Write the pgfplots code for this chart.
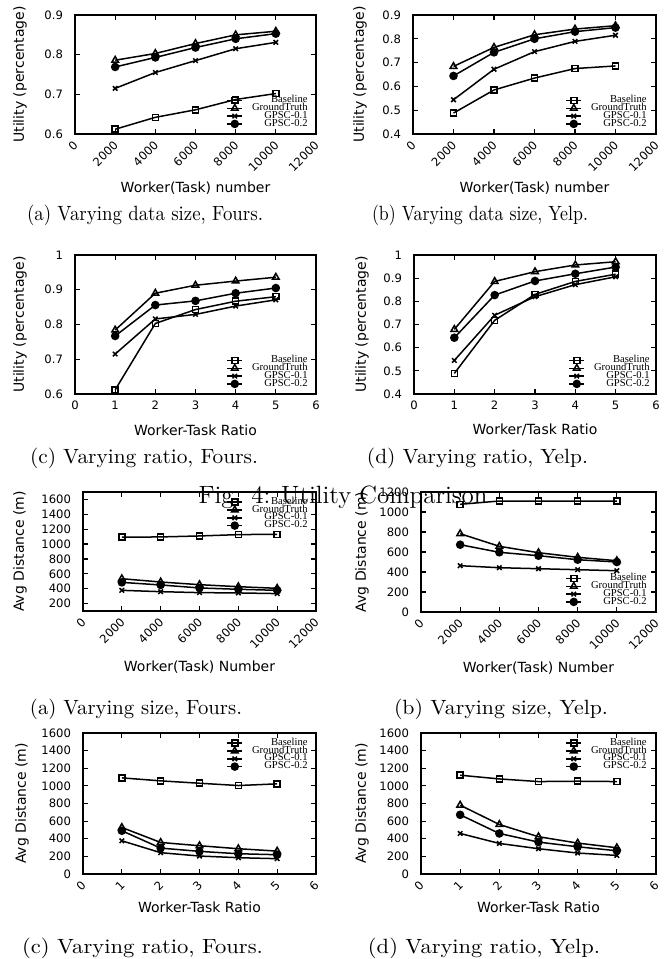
\documentclass[border=0pt]{standalone}
\usepackage{fontspec}
\usepackage{graphicx}
\usepackage{pgfplots}
\pgfplotsset{compat=1.18}
\newfontfamily\dejavu{DejaVu Sans}
\newfontfamily\libserif{Liberation Serif}
\newcommand\tickfont{\dejavu\fontsize{5.8}{6.5}\selectfont}
\newcommand\labfont{\dejavu\fontsize{7}{8}\selectfont}
\newcommand\legfont{\libserif\fontsize{5.3}{5}\selectfont}
\newcommand\capfont{\fontsize{10.3}{12}\selectfont}
% sub-caption squeezed to the width it has in the scanned figure
\newcommand\subcap[2]{\resizebox{#1}{\height}{#2}}

\pgfplotsset{
  gp/.style={
    scale only axis,
    axis line style={line width=0.9pt},
    tick align=inside,
    major tick length=2.5pt,
    every tick/.style={black, line width=0.6pt},
    tick label style={font=\tickfont},
    scaled ticks=false,
    /pgf/number format/1000 sep={},
    /pgf/number format/assume math mode=true,
    label style={font=\labfont},
    yticklabel shift=2.5pt,
    legend cell align=right,
    legend style={draw=none, fill=none, inner sep=0pt, font=\legfont,
      row sep=0.2pt, column sep=4.5pt,
      nodes={inner sep=0pt, text height=2.9pt, text depth=0.8pt}},
    legend image code/.code={\draw[##1, mark repeat=2, mark phase=2]
      plot coordinates {(0pt,0pt) (3.75pt,0pt) (7.5pt,0pt)};},
    every axis plot/.append style={black, line width=0.75pt},
  },
  rotx/.style={xticklabel style={inner sep=0pt, xshift=0.5pt, yshift=-4.5pt, rotate=45, anchor=east}},
  xl/.style={xlabel style={at={([yshift=-#1]axis description cs:0.5,0)}, anchor=center}},
  yl/.style={ylabel style={at={([xshift=-#1]axis description cs:0,0.5)}, rotate=0, anchor=center}},
  legbr/.style={legend style={at={(rel axis cs:1,0)}, anchor=south east, xshift=-#1, yshift=3pt}},
  legtr/.style={legend style={at={(rel axis cs:1,1)}, anchor=north east, xshift=-#1, yshift=-3pt}},
  pb/.style={mark=square, mark size=1.5pt, mark options={fill=white, solid}},
  pg/.style={mark=triangle, mark size=1.9pt, mark options={fill=white, solid}},
  px/.style={mark=x, mark size=1.6pt, mark options={solid}},
  pc/.style={mark=*, mark size=1.75pt, mark options={fill=black, solid}},
}

\begin{document}
\begin{tikzpicture}

% ---------- Fig. 4: utility ----------
\begin{axis}[gp, rotx, xl=27pt, yl=27.5pt, legbr=4pt,
  at={(37.5pt,-7.5pt)}, anchor=north west, width=120.5pt, height=59.5pt,
  xmin=0, xmax=12000, ymin=0.6, ymax=0.9,
  xtick={0,2000,...,12000}, ytick={0.6,0.7,0.8,0.9},
  xlabel={Worker(Task) number}, ylabel={Utility (percentage)}]
\addplot[pb] coordinates {(2000,0.612) (4000,0.642) (6000,0.661) (8000,0.687) (10000,0.702)};
\addplot[pg] coordinates {(2000,0.786) (4000,0.803) (6000,0.828) (8000,0.850) (10000,0.859)};
\addplot[px] coordinates {(2000,0.715) (4000,0.755) (6000,0.785) (8000,0.815) (10000,0.831)};
\addplot[pc] coordinates {(2000,0.769) (4000,0.793) (6000,0.818) (8000,0.840) (10000,0.853)};
\legend{Baseline, GroundTruth, GPSC-0.1, GPSC-0.2}
\end{axis}

\begin{axis}[gp, rotx, xl=27pt, yl=26.5pt, legbr=4.5pt,
  at={(206.5pt,-7.5pt)}, anchor=north west, width=121.5pt, height=59.5pt,
  xmin=0, xmax=12000, ymin=0.4, ymax=0.9,
  xtick={0,2000,...,12000}, ytick={0.4,0.5,0.6,0.7,0.8,0.9},
  xlabel={Worker(Task) number}, ylabel={Utility (percentage)}]
\addplot[pb] coordinates {(2000,0.488) (4000,0.585) (6000,0.635) (8000,0.675) (10000,0.686)};
\addplot[pg] coordinates {(2000,0.684) (4000,0.764) (6000,0.817) (8000,0.841) (10000,0.855)};
\addplot[px] coordinates {(2000,0.544) (4000,0.672) (6000,0.746) (8000,0.789) (10000,0.815)};
\addplot[pc] coordinates {(2000,0.644) (4000,0.743) (6000,0.800) (8000,0.830) (10000,0.847)};
\legend{Baseline, GroundTruth, GPSC-0.1, GPSC-0.2}
\end{axis}

\begin{axis}[gp, xl=18pt, yl=27.5pt, legbr=4pt,
  at={(37.5pt,-127.5pt)}, anchor=north west, width=120.5pt, height=69.5pt,
  xmin=0, xmax=6, ymin=0.6, ymax=1,
  xtick={0,...,6}, ytick={0.6,0.7,0.8,0.9,1},
  xlabel={Worker-Task Ratio}, ylabel={Utility (percentage)}]
\addplot[pb] coordinates {(1,0.612) (2,0.803) (3,0.843) (4,0.867) (5,0.880)};
\addplot[pg] coordinates {(1,0.784) (2,0.890) (3,0.913) (4,0.925) (5,0.936)};
\addplot[px] coordinates {(1,0.715) (2,0.816) (3,0.829) (4,0.853) (5,0.871)};
\addplot[pc] coordinates {(1,0.767) (2,0.856) (3,0.868) (4,0.890) (5,0.905)};
\legend{Baseline, GroundTruth, GPSC-0.1, GPSC-0.2}
\end{axis}

\begin{axis}[gp, xl=18pt, yl=26pt, legbr=3pt,
  at={(207pt,-127.5pt)}, anchor=north west, width=121pt, height=69.5pt,
  xmin=0, xmax=6, ymin=0.4, ymax=1,
  xtick={0,...,6}, ytick={0.4,0.5,0.6,0.7,0.8,0.9,1},
  xlabel={Worker/Task Ratio}, ylabel={Utility (percentage)}]
\addplot[pb] coordinates {(1,0.489) (2,0.718) (3,0.830) (4,0.886) (5,0.917)};
\addplot[pg] coordinates {(1,0.679) (2,0.886) (3,0.928) (4,0.957) (5,0.971)};
\addplot[px] coordinates {(1,0.545) (2,0.740) (3,0.820) (4,0.872) (5,0.906)};
\addplot[pc] coordinates {(1,0.643) (2,0.827) (3,0.888) (4,0.919) (5,0.948)};
\legend{Baseline, GroundTruth, GPSC-0.1, GPSC-0.2}
\end{axis}

% ---------- distance ----------
\begin{axis}[gp, rotx, xl=28pt, yl=31.5pt, legtr=4pt,
  at={(41.5pt,-246pt)}, anchor=north west, width=116.5pt, height=59.5pt,
  xmin=0, xmax=12000, ymin=100, ymax=1700,
  xtick={0,2000,...,12000}, ytick={200,400,...,1600},
  xlabel={Worker(Task) Number}, ylabel={Avg Distance (m)}]
\addplot[pb] coordinates {(2000,1092) (4000,1096) (6000,1109) (8000,1127) (10000,1132)};
\addplot[pg] coordinates {(2000,534) (4000,490) (6000,454) (8000,427) (10000,405)};
\addplot[px] coordinates {(2000,378) (4000,360) (6000,347) (8000,343) (10000,334)};
\addplot[pc] coordinates {(2000,485) (4000,450) (6000,410) (8000,392) (10000,378)};
\legend{Baseline, GroundTruth, GPSC-0.1, GPSC-0.2}
\end{axis}

\begin{axis}[gp, rotx, xl=28pt, yl=29.5pt, legbr=4.5pt,
  at={(210.5pt,-246pt)}, anchor=north west, width=117.5pt, height=60pt,
  xmin=0, xmax=12000, ymin=0, ymax=1200,
  xtick={0,2000,...,12000}, ytick={0,200,...,1200},
  xlabel={Worker(Task) Number}, ylabel={Avg Distance (m)}]
\addplot[pb] coordinates {(2000,1077) (4000,1110) (6000,1110) (8000,1110) (10000,1110)};
\addplot[pg] coordinates {(2000,783) (4000,657) (6000,593) (8000,547) (10000,513)};
\addplot[px] coordinates {(2000,463) (4000,443) (6000,433) (8000,423) (10000,413)};
\addplot[pc] coordinates {(2000,673) (4000,597) (6000,563) (8000,523) (10000,500)};
\legend{Baseline, GroundTruth, GPSC-0.1, GPSC-0.2}
\end{axis}

\begin{axis}[gp, rotx, xl=16.5pt, yl=30.5pt, legtr=4pt,
  at={(41.5pt,-366.5pt)}, anchor=north west, width=116.5pt, height=70.5pt,
  xmin=0, xmax=6, ymin=0, ymax=1600,
  xtick={0,...,6}, ytick={0,200,...,1600},
  xlabel={Worker-Task Ratio}, ylabel={Avg Distance (m)}]
\addplot[pb] coordinates {(1,1091) (2,1057) (3,1030) (4,1004) (5,1023)};
\addplot[pg] coordinates {(1,528) (2,358) (3,321) (4,287) (5,260)};
\addplot[px] coordinates {(1,377) (2,242) (3,204) (4,185) (5,174)};
\addplot[pc] coordinates {(1,491) (2,294) (3,257) (4,230) (5,219)};
\legend{Baseline, GroundTruth, GPSC-0.1, GPSC-0.2}
\end{axis}

\begin{axis}[gp, rotx, xl=16.5pt, yl=29.5pt, legtr=4.5pt,
  at={(210.5pt,-366.5pt)}, anchor=north west, width=117.5pt, height=70.5pt,
  xmin=0, xmax=6, ymin=0, ymax=1600,
  xtick={0,...,6}, ytick={0,200,...,1600},
  xlabel={Worker-Task Ratio}, ylabel={Avg Distance (m)}]
\addplot[pb] coordinates {(1,1121) (2,1079) (3,1049) (4,1053) (5,1049)};
\addplot[pg] coordinates {(1,781) (2,562) (3,423) (4,351) (5,298)};
\addplot[px] coordinates {(1,460) (2,347) (3,287) (4,238) (5,211)};
\addplot[pc] coordinates {(1,672) (2,460) (3,362) (4,309) (5,264)};
\legend{Baseline, GroundTruth, GPSC-0.1, GPSC-0.2}
\end{axis}

% ---------- captions ----------
\node[font=\capfont] at (72.5pt,-107.5pt) {\subcap{118pt}{(a) Varying data size, Fours.}};
\node[font=\capfont] at (240pt,-107.5pt) {\subcap{108pt}{(b) Varying data size, Yelp.}};
\node[font=\capfont] at (72pt,-229pt) {\subcap{114pt}{(c) Varying ratio, Fours.}};
\node[font=\capfont] at (238.75pt,-229pt) {\subcap{110.5pt}{(d) Varying ratio, Yelp.}};
\node[font=\fontsize{12.5}{14}\selectfont] at (171.5pt,-248.5pt) {Fig. 4: Utility Comparison};
\node[font=\capfont] at (68pt,-354.5pt) {\subcap{106pt}{(a) Varying size, Fours.}};
\node[font=\capfont] at (250.5pt,-354.5pt) {\subcap{107pt}{(b) Varying size, Yelp.}};
\node[font=\capfont] at (71.25pt,-474.3pt) {\subcap{120.5pt}{(c) Varying ratio, Fours.}};
\node[font=\capfont] at (242pt,-474.3pt) {\subcap{116pt}{(d) Varying ratio, Yelp.}};

\pgfresetboundingbox
\path[use as bounding box] (0,0) rectangle (335.5pt,-479.5pt);
\end{tikzpicture}
\end{document}
